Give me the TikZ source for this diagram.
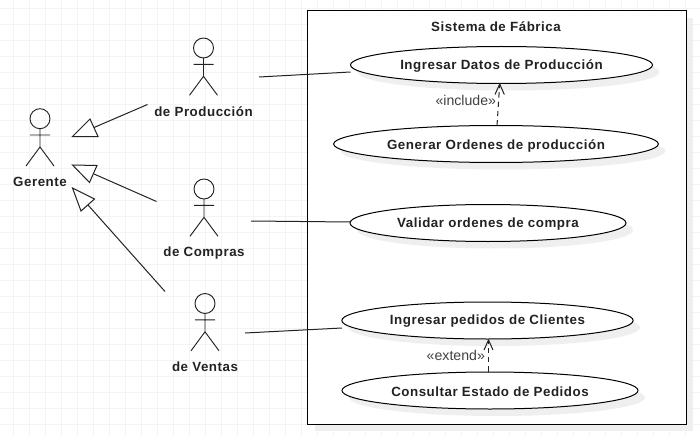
\documentclass[tikz,border=0pt]{standalone}
\usepackage{fontspec}
\setmainfont{Liberation Sans}
\newfontfamily\lblfont[LetterSpace=4,BoldFont={Liberation Sans Bold}]{Liberation Sans}
\usetikzlibrary{shapes.geometric,arrows.meta}
\definecolor{gridc}{HTML}{F3F3F3}
\definecolor{shadowc}{HTML}{EFEFEF}
\definecolor{inkc}{HTML}{222222}
\tikzset{
  every node/.style={text=inkc},
  lbl/.style={font=\lblfont\bfseries\fontsize{10pt}{11pt}\selectfont,inner sep=0pt,yshift=-0.75pt},
  stereo/.style={font=\fontsize{10.6pt}{12pt}\selectfont,inner sep=0pt,text=black!75},
  usecase/.style={draw=black,fill=white,ellipse,inner sep=0pt,outer sep=0pt,line width=0.75pt,minimum height=27.75pt},
  ucshadow/.style={fill=shadowc,ellipse,inner sep=0pt,outer sep=0pt,minimum height=27.75pt},
  ln/.style={draw=inkc,line width=0.75pt},
  actorln/.style={draw=inkc,line width=0.7pt},
  gen/.style={draw=inkc,line width=0.75pt,fill=white,line join=miter},
  pics/actor/.style={code={
    \draw[actorln] (0,-10.3) circle[radius=10];
    \draw[actorln] (0,-0.3) -- (0,18) (-10,6) -- (10,6) (-14,37) -- (0,18) -- (14,37);
  }}
}
\begin{document}
\begin{tikzpicture}[x=0.75pt,y=-0.75pt]
\useasboundingbox (0,0) rectangle (700,435);
% background grid
\begin{scope}
\clip (0,0) rectangle (700,435);
\foreach \gx in {13,29,...,700} \draw[gridc,line width=0.75pt] (\gx,0) -- (\gx,435);
\foreach \gy in {8.7,24.7,...,435} \draw[gridc,line width=0.75pt] (0,\gy) -- (700,\gy);
\end{scope}
% system boundary
\fill[shadowc] (315,18) rectangle (693,431);
\node[draw=black,fill=white,line width=0.75pt,inner sep=0pt,outer sep=0pt,minimum width=283.9pt,minimum height=309.75pt,anchor=north west] (sys) at (307.5,11) {};
\node[lbl] (systitle) at (496,26) {Sistema de Fábrica};
% use-case shadows
\node[ucshadow,minimum width=226.5pt] at (508.5,72) {};
\node[ucshadow,minimum width=243.5pt] at (503,151) {};
\node[ucshadow,minimum width=207pt] at (495,230) {};
\node[ucshadow,minimum width=218.5pt] at (494.5,327.5) {};
\node[ucshadow,minimum width=222pt] at (497,397.5) {};
% use cases
\node[usecase,minimum width=226.5pt] (uc1) at (501.5,65) {};
\node[usecase,minimum width=243.5pt] (uc2) at (496,144) {};
\node[usecase,minimum width=207pt] (uc3) at (488,223) {};
\node[usecase,minimum width=218.5pt] (uc4) at (487.5,320.5) {};
\node[usecase,minimum width=222pt] (uc5) at (490,390.5) {};
\node[lbl] (uc1t) at (501.5,65) {Ingresar Datos de Producción};
\node[lbl] (uc2t) at (496,144.5) {Generar Ordenes de producción};
\node[lbl] (uc3t) at (488,223) {Validar ordenes de compra};
\node[lbl] (uc4t) at (487.5,320.5) {Ingresar pedidos de Clientes};
\node[lbl] (uc5t) at (490,391) {Consultar Estado de Pedidos};
% actors
\pic at (40,129) {actor};
\pic at (203.5,58.3) {actor};
\pic at (204,199.3) {actor};
\pic at (205,313.8) {actor};
\node[lbl] (gerente) at (40,181) {Gerente};
\node[lbl] (prod) at (203.5,111) {de Producción};
\node[lbl] (comp) at (204,252) {de Compras};
\node[lbl] (vent) at (205,366) {de Ventas};
% generalisation ends
\coordinate (g1) at (147.5,104.5);
\coordinate (g2) at (156.5,201.5);
\coordinate (g3) at (165,291.5);
\coordinate (t1) at (94,127.5);
\coordinate (t2) at (94,174);
\coordinate (t3) at (88,205);
\draw[ln] (g1) -- (t1);
\draw[ln] (g2) -- (t2);
\draw[ln] (g3) -- (t3);
\draw[gen] (72.5,136.5) -- (98,136.5) -- (90,119) -- cycle;
\draw[gen] (72.5,165) -- (97,165.5) -- (89.5,182.5) -- cycle;
\draw[gen] (72.5,188) -- (94.5,199) -- (81,211) -- cycle;
% associations
\coordinate (a1) at (259,77);
\coordinate (a2) at (251,221);
\coordinate (a3) at (245,333);
\draw[ln] (a1) -- (uc1.west |- 0,72);
\draw[ln] (a2) -- (uc3.west |- 0,222);
\draw[ln] (a3) -- (uc4.west |- 0,328);
% include / extend
\coordinate (i1) at (497,125.5);
\coordinate (i2) at (499.7,84);
\coordinate (e1) at (488.5,371.5);
\coordinate (e2) at (488.5,340);
\draw[ln,dashed,dash pattern=on 4pt off 3pt] (i1) -- (i2);
\draw[ln] (495,94.5) -- (i2) -- (504.3,94.5);
\draw[ln,dashed,dash pattern=on 4pt off 3pt] (e1) -- (e2);
\draw[ln] (484,350) -- (e2) -- (493,350);
\node[stereo] (inc) at (465.8,100) {«include»};
\node[stereo] (ext) at (455.8,355) {«extend»};
\end{tikzpicture}
\end{document}
